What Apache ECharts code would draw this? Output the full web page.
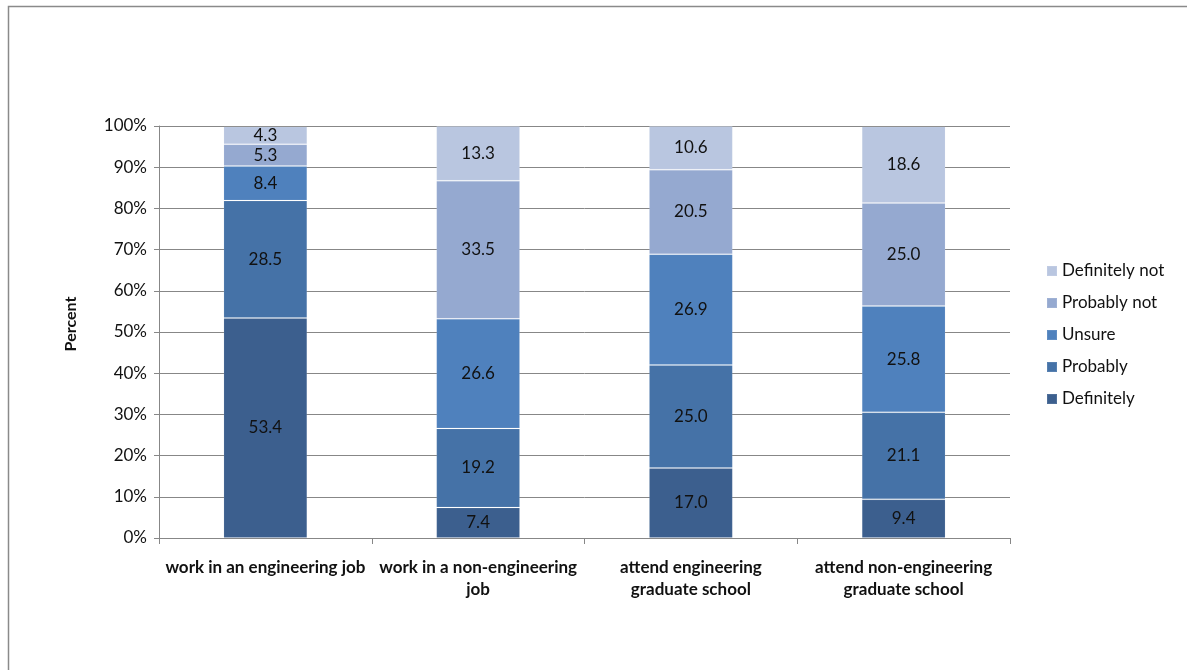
<!DOCTYPE html>
<html>
<head>
<meta charset="utf-8">
<script src="https://cdn.jsdelivr.net/npm/echarts@6/dist/echarts.min.js"></script>
<style>
  html, body { margin: 0; padding: 0; background: #fff; }
  #chart { width: 1187px; height: 670px; }
</style>
</head>
<body>
<div id="chart"></div>
<script>
// Survey categories (x axis)
const categories = [
  'work in an engineering job',
  'work in a non-engineering\njob',
  'attend engineering\ngraduate school',
  'attend non-engineering\ngraduate school'
];

// Percent of respondents per answer, stacked bottom to top
const definitely    = [53.4, 7.4, 17.0, 9.4];
const probably      = [28.5, 19.2, 25.0, 21.1];
const unsure        = [8.4, 26.6, 26.9, 25.8];
const probablyNot   = [5.3, 33.5, 20.5, 25.0];
const definitelyNot = [4.3, 13.3, 10.6, 18.6];

const yTicks = [0, 10, 20, 30, 40, 50, 60, 70, 80, 90, 100];

const FONT = 'Lato, "Liberation Sans", sans-serif';
const gridColor = '#878787';

function seriesOf(name, data, color) {
  return {
    name: name,
    type: 'bar',
    stack: 'total',
    data: data,
    barWidth: '39.4%',
    itemStyle: { color: color, borderColor: 'rgba(255,255,255,0.1)', borderWidth: 1 },
    label: {
      show: true,
      position: 'inside',
      formatter: p => p.value.toFixed(1),
      color: '#111',
      fontFamily: FONT,
      fontSize: 17
    },
    emphasis: { disabled: true }
  };
}

const chart = echarts.init(document.getElementById('chart'), null, { renderer: 'canvas' });

chart.setOption({
  animation: false,
  backgroundColor: '#fff',
  graphic: [{
    type: 'rect',
    left: 6, top: 4,
    shape: { width: 1400, height: 900 },
    style: { fill: 'none', stroke: '#8a8a8a', lineWidth: 1.5 },
    silent: true,
    z: -10
  }],
  grid: { left: 159, right: 177, top: 126, bottom: 132 },
  legend: {
    orient: 'vertical',
    left: 1041,
    top: 256,
    itemWidth: 10,
    itemHeight: 10,
    itemGap: 12,
    icon: 'rect',
    textStyle: { fontFamily: FONT, fontSize: 17, lineHeight: 20, color: '#111' },
    data: ['Definitely not', 'Probably not', 'Unsure', 'Probably', 'Definitely'],
    selectedMode: false
  },
  xAxis: {
    type: 'category',
    data: categories,
    boundaryGap: true,
    axisLine: { lineStyle: { color: gridColor, width: 1 } },
    axisTick: { show: true, length: 6, lineStyle: { color: gridColor } },
    axisLabel: {
      interval: 0,
      margin: 19,
      fontFamily: FONT,
      fontSize: 17,
      fontWeight: 'bold',
      color: '#111',
      lineHeight: 22
    }
  },
  yAxis: {
    type: 'value',
    min: yTicks[0],
    max: yTicks[yTicks.length - 1],
    interval: 10,
    name: 'Percent',
    nameLocation: 'middle',
    nameRotate: 90,
    nameGap: 80,
    nameTextStyle: { fontFamily: FONT, fontSize: 16, fontWeight: 'bold', color: '#111', padding: [0, 0, 0, 16] },
    axisLine: { show: true, lineStyle: { color: gridColor, width: 1 } },
    axisTick: { show: true, length: 5, lineStyle: { color: gridColor } },
    splitLine: { show: true, lineStyle: { color: gridColor, width: 1 } },
    axisLabel: {
      formatter: '{value}%',
      margin: 12,
      fontFamily: FONT,
      fontSize: 17,
      color: '#111'
    }
  },
  series: [
    seriesOf('Definitely', definitely, '#3c5f8e'),
    seriesOf('Probably', probably, '#4572a7'),
    seriesOf('Unsure', unsure, '#4f81bd'),
    seriesOf('Probably not', probablyNot, '#95a9d0'),
    seriesOf('Definitely not', definitelyNot, '#b9c6e0')
  ]
});
</script>
</body>
</html>
